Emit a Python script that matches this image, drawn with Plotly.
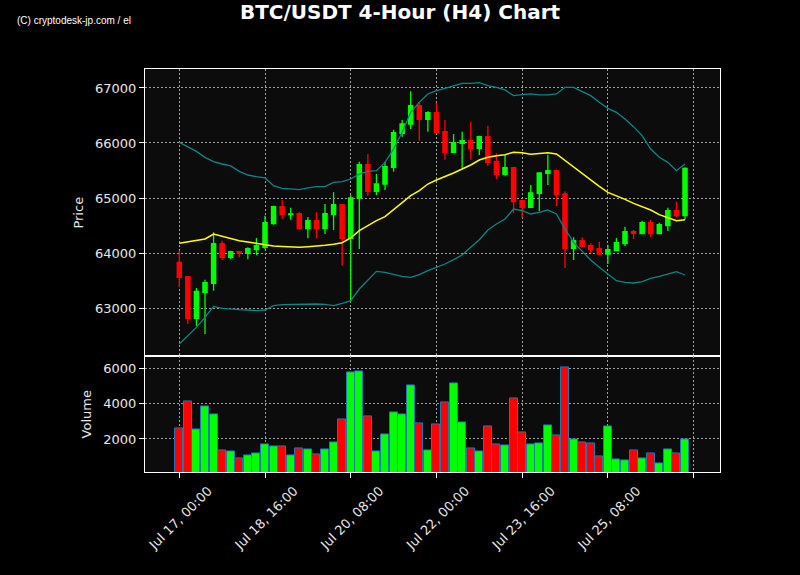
import pandas as pd
import plotly.graph_objects as go
from plotly.subplots import make_subplots

start = "2024-07-17 00:00"
n = 60
times = pd.date_range(start, periods=n, freq="4h")

opens = [63830, 63570, 62812, 63285, 63449, 64170, 63921, 64024, 63994, 64061,
         64103, 64533, 64842, 64697, 64715, 64442, 64588, 64442, 64697, 64879,
         64267, 65000, 65606, 65121, 65254, 65557, 66176, 66345, 66678, 66430,
         66551, 66206, 65830, 65994, 66042, 65903, 66115, 65660, 65430, 65551,
         64951, 64830, 65085, 65448, 65497, 65073, 64085, 64224, 64133, 64079,
         63982, 64042, 64170, 64388, 64351, 64551, 64351, 64497, 64770, 64679]
highs = [64042, 63580, 63364, 63515, 64376, 64224, 64042, 64030, 64103, 64273,
         64679, 64860, 64964, 64824, 64739, 64654, 64739, 64890, 65103, 64885,
         65054, 65660, 65800, 65436, 65660, 66242, 66418, 66939, 66745, 66576,
         66733, 66418, 66164, 66206, 66388, 66133, 66315, 65812, 65782, 65570,
         64960, 65236, 65454, 65788, 65515, 65121, 64285, 64285, 64176, 64206,
         64151, 64273, 64479, 64418, 64588, 64600, 64551, 64824, 64933, 65557]
lows = [63376, 62709, 62679, 62527, 63315, 63873, 63885, 63921, 63885, 63964,
        64073, 64515, 64612, 64606, 64424, 64267, 64267, 64345, 64418, 63770,
        63120, 64073, 65042, 65054, 65145, 65479, 66115, 66254, 66042, 66206,
        66164, 65697, 65830, 65545, 65697, 65782, 65588, 65345, 65406, 64721,
        64642, 64830, 64758, 65236, 64854, 63727, 63873, 64103, 64000, 63964,
        63800, 64042, 64127, 64254, 64339, 64290, 64340, 64400, 64648, 64606]
closes = [63558, 62812, 63303, 63461, 64170, 63921, 64024, 63994, 64079, 64133,
          64551, 64842, 64697, 64709, 64442, 64588, 64442, 64715, 64879, 64267,
          65000, 65606, 65121, 65254, 65570, 66188, 66345, 66678, 66430, 66551,
          66188, 65830, 66006, 66042, 65903, 66115, 65648, 65430, 65551, 64933,
          64830, 65091, 65454, 65497, 65067, 64085, 64224, 64121, 64061, 63982,
          64061, 64188, 64388, 64357, 64551, 64351, 64515, 64770, 64679, 65539]
volumes = [2620, 4122, 2563, 3859, 3408, 1380, 1305, 930, 1099, 1211,
           1718, 1606, 1606, 1099, 1493, 1437, 1155, 1437, 1831, 3127,
           5775, 5831, 3296, 1324, 2282, 3521, 3408, 5042, 2901, 1380,
           2845, 4085, 5155, 2958, 1493, 1324, 2732, 1718, 1662, 4310,
           2394, 1718, 1775, 2789, 2225, 6056, 2000, 1831, 1775, 1042,
           2732, 873, 817, 1380, 930, 1211, 648, 1437, 1211, 2000]
sma = [64176, 64200, 64225, 64255, 64345, 64303, 64265, 64224, 64200, 64176,
       64150, 64127, 64120, 64115, 64103, 64115, 64125, 64139, 64160, 64188,
       64273, 64406, 64497, 64588, 64660, 64782, 64903, 65042, 65133, 65254,
       65327, 65388, 65454, 65527, 65600, 65691, 65739, 65770, 65788, 65830,
       65824, 65794, 65812, 65824, 65800, 65679, 65570, 65448, 65327, 65212,
       65103, 65042, 64976, 64903, 64848, 64782, 64697, 64648, 64588, 64606]
upper = [66012, 65933, 65848, 65739, 65660, 65618, 65582, 65485, 65418, 65388,
         65364, 65224, 65176, 65164, 65151, 65182, 65206, 65206, 65285, 65297,
         65345, 65436, 65485, 65497, 65648, 65891, 66194, 66557, 66739, 66891,
         66951, 66994, 67042, 67085, 67085, 67097, 67042, 67012, 66964, 66861,
         66879, 66891, 66873, 66873, 66891, 67012, 67012, 66939, 66861, 66739,
         66630, 66557, 66436, 66297, 66133, 65891, 65739, 65648, 65497, 65618]
lower = [62346, 62497, 62648, 62830, 63030, 62994, 62976, 62970, 62964, 62952,
         62964, 63042, 63061, 63067, 63073, 63073, 63073, 63067, 63042, 63085,
         63133, 63345, 63509, 63667, 63648, 63606, 63576, 63558, 63606, 63679,
         63739, 63800, 63879, 63964, 64103, 64242, 64418, 64527, 64618, 64800,
         64770, 64709, 64739, 64782, 64709, 64436, 64194, 64024, 63873, 63739,
         63618, 63497, 63467, 63455, 63479, 63539, 63576, 63618, 63661, 63600]

tick_dates = ["2024-07-17 00:00", "2024-07-18 16:00", "2024-07-20 08:00",
              "2024-07-22 00:00", "2024-07-23 16:00", "2024-07-25 08:00",
              "2024-07-27 00:00"]
tick_texts = ["Jul 17, 00:00", "Jul 18, 16:00", "Jul 20, 08:00",
              "Jul 22, 00:00", "Jul 23, 16:00", "Jul 25, 08:00", ""]
price_ticks = [63000, 64000, 65000, 66000, 67000]
volume_ticks = [2000, 4000, 6000]

UP = "#00ff00"
DOWN = "#ff0000"
BAND = "#0b8585"
GRID = "#a0a0a0"
TXT = "#e8e8e8"
FONT = "DejaVu Sans"

L, T, PW, PH = 145, 69, 575, 403

vol_colors = [UP if c >= o else DOWN for o, c in zip(opens, closes)]

fig = make_subplots(rows=2, cols=1, shared_xaxes=True, vertical_spacing=0,
                    row_heights=[0.7132, 0.2868])

fig.add_trace(go.Scatter(x=times, y=upper, mode="lines",
                         line=dict(color=BAND, width=1.3), showlegend=False), row=1, col=1)
fig.add_trace(go.Scatter(x=times, y=lower, mode="lines",
                         line=dict(color=BAND, width=1.3), showlegend=False), row=1, col=1)
fig.add_trace(go.Scatter(x=times, y=sma, mode="lines",
                         line=dict(color="#ffff00", width=1.5), showlegend=False), row=1, col=1)
fig.add_trace(go.Candlestick(x=times, open=opens, high=highs, low=lows, close=closes,
                             increasing=dict(line=dict(color=UP, width=1.3), fillcolor=UP),
                             decreasing=dict(line=dict(color=DOWN, width=1.3), fillcolor=DOWN),
                             whiskerwidth=0, showlegend=False), row=1, col=1)
fig.add_trace(go.Bar(x=times, y=volumes, marker=dict(color=vol_colors,
                                                     line=dict(color="#1f77b4", width=1)),
                     width=4 * 3600 * 1000 * 0.93, showlegend=False), row=2, col=1)

xrange = ["2024-07-16 08:00", "2024-07-27 12:20"]
axis_common = dict(showline=True, linecolor="white", linewidth=1.3, mirror=True,
                   showgrid=True, gridcolor=GRID, griddash="1.5px,2.5px", gridwidth=1,
                   zeroline=False, tickfont=dict(family=FONT, size=13, color=TXT),
                   ticks="outside", tickcolor="white", ticklen=5)

fig.update_xaxes(**axis_common, range=xrange, tickvals=tick_dates, ticktext=tick_texts,
                 rangeslider_visible=False)
fig.update_xaxes(showticklabels=False, ticks="", row=1, col=1)
fig.update_xaxes(tickangle=-45, ticklabelshift=29, row=2, col=1)

fig.update_yaxes(**axis_common, tickformat="d")
fig.update_yaxes(range=[62120, 67345], tickvals=price_ticks,
                 title=dict(text="Price", font=dict(family=FONT, size=13, color=TXT), standoff=8),
                 row=1, col=1)
fig.update_yaxes(range=[140, 6655], tickvals=volume_ticks,
                 title=dict(text="Volume", font=dict(family=FONT, size=13, color=TXT), standoff=8),
                 row=2, col=1)

fig.update_layout(
    width=800, height=575,
    margin=dict(l=L, r=800 - L - PW, t=T, b=575 - T - PH, autoexpand=False),
    paper_bgcolor="#000000", plot_bgcolor="#0c0c0c",
    title=dict(text="<b>BTC/USDT 4-Hour (H4) Chart</b>", x=0.5, xanchor="center",
               y=1 - 12 / 575, yanchor="middle",
               font=dict(family=FONT, size=20, color="white")),
    bargap=0, showlegend=False,
    annotations=[dict(text="(C) cryptodesk-jp.com / el",
                      x=(15 - L) / PW, y=1 + (T - 20) / PH,
                      xref="paper", yref="paper",
                      showarrow=False, xanchor="left", yanchor="middle",
                      font=dict(family="Liberation Sans Narrow, Liberation Sans", size=10, color="white"))],
)

fig.write_html("out.html", config={"displayModeBar": False},
               post_script="document.body.style.margin='0';document.body.style.background='#000';")
